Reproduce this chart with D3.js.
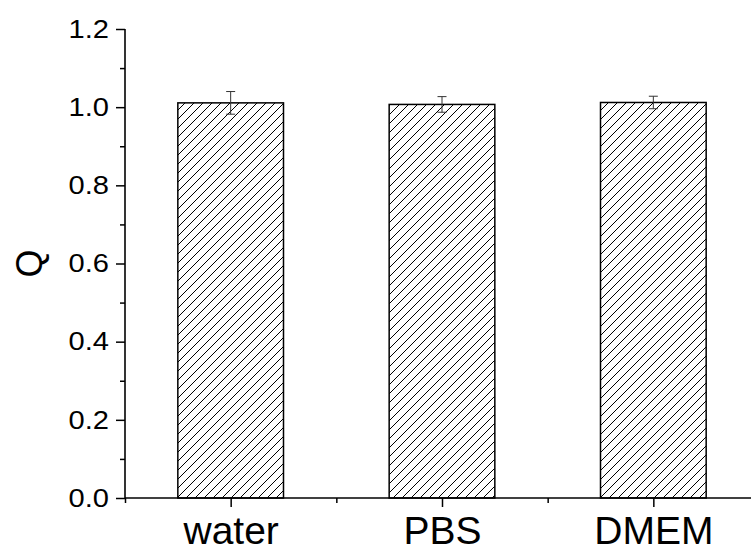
<!DOCTYPE html>
<html>
<head>
<meta charset="utf-8">
<script src="https://cdn.jsdelivr.net/npm/d3@7"></script>
<style>
  body { margin: 0; background: #fff; }
  svg { display: block; font-family: "Liberation Sans", Arial, sans-serif; }
</style>
</head>
<body>
<div class="chart"></div>
<script>
// bar chart of Q per medium, hatched bars with error bars
var categories = ["water", "PBS", "DMEM"];
var values = [1.011, 1.007, 1.012];
var errors = [0.029, 0.020, 0.016];
var majorTicks = [0, 0.2, 0.4, 0.6, 0.8, 1.0, 1.2];
var minorTicks = [0.1, 0.3, 0.5, 0.7, 0.9, 1.1];

var svgWidth = 751;
var svgHeight = 553;

var svg = d3.select(".chart")
    .append("svg")
    .attr("width", svgWidth)
    .attr("height", svgHeight);

var yScale = d3.scaleLinear().domain([0, 1.2]).range([498, 29]);
// categories sit at 1,2,3 on an axis that runs from 0.5
var xScale = d3.scaleLinear().domain([0.5, 3.5]).range([125, 759]);
var barWidth = xScale(1.25) - xScale(0.75);

// hatch pattern
var defs = svg.append("defs");
var pat = defs.append("pattern")
    .attr("id", "hatch")
    .attr("patternUnits", "userSpaceOnUse")
    .attr("width", 9)
    .attr("height", 9);
pat.append("rect").attr("width", 9).attr("height", 9).attr("fill", "#fff");
pat.append("path")
    .attr("d", "M-2,2 L2,-2 M0,9 L9,0 M7,11 L11,7")
    .attr("stroke", "#000")
    .attr("stroke-width", 1);

var chart = svg.append("g");

chart.selectAll("rect.bar")
    .data(values)
    .enter()
    .append("rect")
    .attr("class", "bar")
    .attr("x", function(d, i) { return xScale(i + 1) - barWidth / 2; })
    .attr("y", function(d) { return yScale(d); })
    .attr("width", barWidth)
    .attr("height", function(d) { return yScale(0) - yScale(d); })
    .attr("fill", "url(#hatch)")
    .attr("stroke", "#000")
    .attr("stroke-width", 1.5);

// error bars
var err = chart.selectAll("g.err")
    .data(values)
    .enter()
    .append("g")
    .attr("class", "err")
    .attr("stroke", "#333")
    .attr("stroke-width", 1);
err.append("line")
    .attr("x1", function(d, i) { return xScale(i + 1); })
    .attr("x2", function(d, i) { return xScale(i + 1); })
    .attr("y1", function(d, i) { return yScale(d + errors[i]); })
    .attr("y2", function(d, i) { return yScale(d - errors[i]); });
err.append("line")
    .attr("x1", function(d, i) { return xScale(i + 1) - 4.5; })
    .attr("x2", function(d, i) { return xScale(i + 1) + 4.5; })
    .attr("y1", function(d, i) { return yScale(d + errors[i]); })
    .attr("y2", function(d, i) { return yScale(d + errors[i]); });
err.append("line")
    .attr("x1", function(d, i) { return xScale(i + 1) - 4.5; })
    .attr("x2", function(d, i) { return xScale(i + 1) + 4.5; })
    .attr("y1", function(d, i) { return yScale(d - errors[i]); })
    .attr("y2", function(d, i) { return yScale(d - errors[i]); });

// y axis
var leftAxis = d3.axisLeft(yScale)
    .tickValues(majorTicks)
    .tickSize(9)
    .tickPadding(7)
    .tickFormat(d3.format(".1f"));
var yAxisG = chart.append("g")
    .attr("transform", "translate(125,0)")
    .call(leftAxis);
yAxisG.attr("font-family", null);
yAxisG.select(".domain").remove();
// labels in the original are a little wider than plain Arial
yAxisG.selectAll("text")
    .attr("font-size", 26)
    .attr("fill", "#000")
    .attr("x", -16 / 1.12)
    .attr("transform", "scale(1.12,1)");

var leftMinor = d3.axisLeft(yScale).tickValues(minorTicks).tickSize(5).tickFormat("");
var yMinorG = chart.append("g").attr("transform", "translate(125,0)").call(leftMinor);
yMinorG.select(".domain").remove();

chart.append("line")
    .attr("x1", 125).attr("x2", 125)
    .attr("y1", yScale(1.2)).attr("y2", yScale(0))
    .attr("stroke", "#000").attr("stroke-width", 1.6);

// x axis
var bottomAxis = d3.axisBottom(xScale)
    .tickValues([1, 2, 3])
    .tickSize(9)
    .tickPadding(9)
    .tickFormat(function(d) { return categories[d - 1]; });
var xAxisG = chart.append("g")
    .attr("transform", "translate(0," + yScale(0) + ")")
    .call(bottomAxis);
xAxisG.attr("font-family", null);
xAxisG.select(".domain").remove();
xAxisG.selectAll("text").attr("font-size", 39).attr("fill", "#000");

var bottomMinor = d3.axisBottom(xScale).tickValues([0.5, 1.5, 2.5]).tickSize(5).tickFormat("");
var xMinorG = chart.append("g")
    .attr("transform", "translate(0," + yScale(0) + ")")
    .call(bottomMinor);
xMinorG.select(".domain").remove();

chart.append("line")
    .attr("x1", 125).attr("x2", svgWidth)
    .attr("y1", yScale(0)).attr("y2", yScale(0))
    .attr("stroke", "#000").attr("stroke-width", 1.6);

chart.selectAll(".tick line").attr("stroke", "#000").attr("stroke-width", 1.5);

// y axis title
chart.append("text")
    .attr("transform", "translate(42," + ((yScale(0) + yScale(1.2)) / 2) + ") rotate(-90)")
    .attr("text-anchor", "middle")
    .attr("font-size", 36)
    .text("Q");
</script>
</body>
</html>
